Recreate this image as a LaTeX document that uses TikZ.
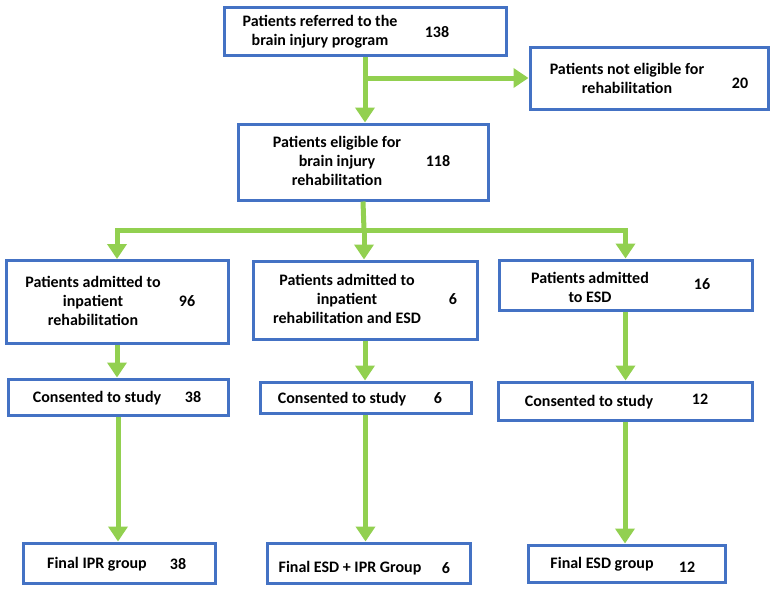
\documentclass[tikz,border=0pt]{standalone}
\usepackage{fontspec}
\setmainfont{Carlito}
\usetikzlibrary{arrows.meta}
\definecolor{boxblue}{RGB}{68,114,196}
\definecolor{arrgreen}{RGB}{146,208,80}
\begin{document}
\begin{tikzpicture}[x=1pt,y=-1pt,
  box/.style={draw=boxblue, line width=3pt, fill=white, rectangle, inner sep=0pt},
  lbl/.style={align=center, font=\fontsize{16}{19}\selectfont\bfseries, inner sep=0pt},
  conn/.style={draw=arrgreen, line width=5pt},
  arr/.style={conn, -{Triangle[width=19pt,length=15pt]}}]
\useasboundingbox (0,0) rectangle (773,590);
% boxes
\node[box, minimum width=282pt, minimum height=48pt] (b1) at (365,31) {};
\node[box, minimum width=238pt, minimum height=62pt] (ne) at (649,78) {};
\node[box, minimum width=250pt, minimum height=76pt] (b2) at (363,162) {};
\node[box, minimum width=222pt, minimum height=83pt] (l3) at (117,302) {};
\node[box, minimum width=224pt, minimum height=78pt] (m3) at (365,300) {};
\node[box, minimum width=253pt, minimum height=50pt] (r3) at (625.5,285) {};
\node[box, minimum width=220pt, minimum height=36pt] (l4) at (118,397) {};
\node[box, minimum width=211pt, minimum height=31pt] (m4) at (365.5,397.5) {};
\node[box, minimum width=254pt, minimum height=38pt] (r4) at (625,401) {};
\node[box, minimum width=192pt, minimum height=40pt] (l5) at (119,563) {};
\node[box, minimum width=203pt, minimum height=40pt] (m5) at (368.5,563) {};
\node[box, minimum width=197pt, minimum height=37pt] (r5) at (626.5,563.5) {};
% texts
\node[lbl] (b1t) at (320,32) {Patients referred to the\\brain injury program};
\node[lbl] (b1n) at (437,32) {138};
\node[lbl] (net) at (627,78) {Patients not eligible for\\rehabilitation};
\node[lbl] (nen) at (740,83) {20};
\node[lbl] (b2t) at (337,161) {Patients eligible for\\brain injury\\rehabilitation};
\node[lbl] (b2n) at (438,161) {118};
\node[lbl] (l3t) at (93,301) {Patients admitted to\\inpatient\\rehabilitation};
\node[lbl] (l3n) at (187,301) {96};
\node[lbl] (m3t) at (347,299) {Patients admitted to\\inpatient\\rehabilitation and ESD};
\node[lbl] (m3n) at (453,299) {6};
\node[lbl] (r3t) at (590,287) {Patients admitted\\to ESD};
\node[lbl] (r3n) at (702,284) {16};
\node[lbl] (l4t) at (97,398) {Consented to study};
\node[lbl] (l4n) at (193,397) {38};
\node[lbl] (m4t) at (342,399) {Consented to study};
\node[lbl] (m4n) at (438,398) {6};
\node[lbl] (r4t) at (589,402) {Consented to study};
\node[lbl] (r4n) at (700,399) {12};
\node[lbl] (l5t) at (97,564) {Final IPR group};
\node[lbl] (l5n) at (178,564) {38};
\node[lbl] (m5t) at (350,568) {Final ESD + IPR Group};
\node[lbl] (m5n) at (446,568) {6};
\node[lbl] (r5t) at (602,564) {Final ESD group};
\node[lbl] (r5n) at (687,567) {12};
% connectors
\coordinate (j1) at (b1.south |- ne.west);
\draw[arr] (b1.south) -- (b1.south |- b2.north);
\draw[arr] (j1) -- (ne.west);
\coordinate (j2) at (364,230);
\draw[conn] (b2.south) -- (j2);
\draw[arr] (j2) -| (l3.north);
\draw[arr] (j2) -- (j2 |- m3.north);
\draw[arr] (j2) -| (r3.north);
\draw[arr] (l3.south) -- (l3.south |- l4.north);
\draw[arr] (m3.south) -- (m3.south |- m4.north);
\draw[arr] (r3.south) -- (r3.south |- r4.north);
\draw[arr] (l4.south) -- (l4.south |- l5.north);
\draw[arr] (m4.south) -- (m4.south |- m5.north);
\draw[arr] (r4.south) -- (r4.south |- r5.north);
\end{tikzpicture}
\end{document}
